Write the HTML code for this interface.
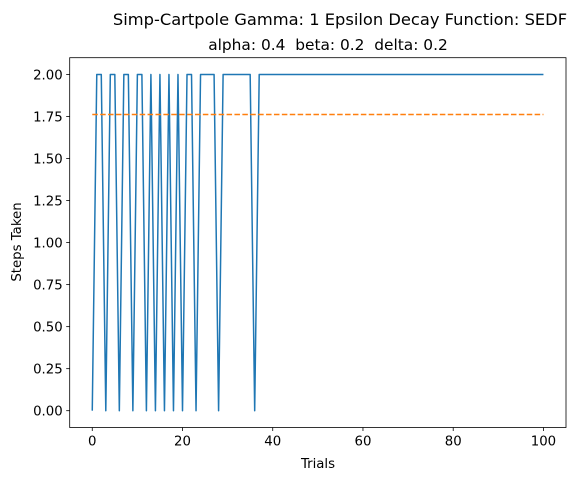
<!DOCTYPE html>
<html><head><meta charset="utf-8"><style>
body{margin:0;background:#fff}
svg{display:block;font-family:"DejaVu Sans","Liberation Sans",sans-serif}
</style></head><body>
<svg id="chart" width="576" height="480">
<text x="340" y="25" font-size="16.3" text-anchor="middle">Simp-Cartpole Gamma: 1 Epsilon Decay Function: SEDF</text>
<text x="328" y="50" font-size="15.4" text-anchor="middle" style="white-space:pre" xml:space="preserve">alpha: 0.4  beta: 0.2  delta: 0.2</text>
<g id="plot"></g>
<text x="318" y="468" font-size="13.3" text-anchor="middle">Trials</text>
<text transform="translate(21,242) rotate(-90)" font-size="13.3" text-anchor="middle">Steps Taken</text>
</svg>
<script>
const zeroTrials=[0,3,6,9,12,14,16,18,20,23,28,36];
const numTrials=101;
const xTicks=[0,20,40,60,80,100];
const yTicks=[0,0.25,0.5,0.75,1,1.25,1.5,1.75,2];
const steps=[];for(let i=0;i<numTrials;i++)steps.push(zeroTrials.includes(i)?0:2);
const meanVal=steps.reduce((a,b)=>a+b,0)/steps.length;
const L=69.7,R=566,T=57.7,B=427.5;
const xs=v=>L+(v+5)/110*(R-L);
const ys=v=>B-(v+0.1)/2.2*(B-T);
const NS="http://www.w3.org/2000/svg";
const g=document.getElementById('plot');
function mk(t,a){const e=document.createElementNS(NS,t);for(const k in a)e.setAttribute(k,a[k]);g.appendChild(e);return e;}
let d=steps.map((v,i)=>(i?'L':'M')+xs(i).toFixed(2)+','+ys(v).toFixed(2)).join('');
const ln=mk('path',{d:d,fill:'none',stroke:'#1f77b4','stroke-width':1.5,'stroke-linejoin':'round'});


const mn=mk('line',{x1:xs(0),x2:xs(numTrials-1),y1:ys(meanVal),y2:ys(meanVal),stroke:'#ff7f0e','stroke-width':1.5,'stroke-dasharray':'5.5,2.4'});


const fr=mk('rect',{x:L,y:T,width:R-L,height:B-T,fill:'none',stroke:'#000','stroke-width':0.8});


xTicks.forEach(v=>{const x=xs(v);
 mk('line',{x1:x,x2:x,y1:B,y2:B+3.5,stroke:'#000','stroke-width':0.8});
 const t=mk('text',{x:x,y:B+18,'font-size':13.3,'text-anchor':'middle'});t.textContent=v;
 
 });
yTicks.forEach(v=>{const y=ys(v);
 mk('line',{x1:L-3.5,x2:L,y1:y,y2:y,stroke:'#000','stroke-width':0.8});
 const t=mk('text',{x:L-7,y:y+4.8,'font-size':13.3,'text-anchor':'end'});t.textContent=v.toFixed(2);
 
 });
</script>
</body></html>
